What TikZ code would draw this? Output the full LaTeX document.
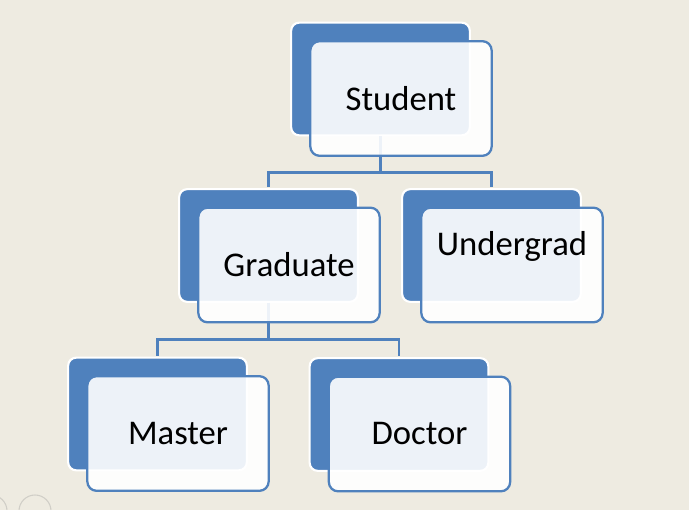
\documentclass[tikz,border=0pt]{standalone}
\usepackage{fontspec}
\setmainfont{Carlito}
\usetikzlibrary{positioning}
\definecolor{bgpaper}{RGB}{238,235,225}
\definecolor{boxblue}{RGB}{79,129,189}
\definecolor{ctrlgray}{RGB}{208,206,199}
\tikzstyle{backbox} = [draw=white, fill=boxblue, line width=1.6pt, rounded corners=6pt, minimum width=134pt, minimum height=84.5pt, inner sep=0pt]
\tikzstyle{frontbox} = [draw=boxblue, fill=white, fill opacity=0.9, text opacity=1, line width=1.7pt, rounded corners=7pt, minimum width=136pt, minimum height=86pt, font=\fontsize{26}{30}\selectfont]
\tikzstyle{link} = [draw=boxblue, line width=2.2pt]
\tikzstyle{ctrl} = [draw=ctrlgray, line width=0.8pt]

\begin{document}
\begin{tikzpicture}[x=0.75pt, y=-0.75pt]
    \clip (0,0) rectangle (689,510);
    \fill[bgpaper] (0,0) rectangle (689,510);
    % back boxes
    \node[backbox] (stuB) at (380.5,79) {};
    \node[backbox] (graB) at (268.5,245.5) {};
    \node[backbox] (ugB) at (491.5,245.5) {};
    \node[backbox] (masB) at (157.5,414) {};
    \node[backbox] (docB) at (399,414.5) {};
    % tree lines
    \coordinate (stuJ) at ([yshift=-27pt]stuB.south);
    \coordinate (graJ) at ([yshift=-27.5pt]graB.south);
    \draw[link] (stuB.south) -- (stuJ);
    \draw[link, shorten <=0.8pt, shorten >=0.8pt] (graB.north) |- (stuJ) -| (ugB.north);
    \draw[link] (graB.south) -- (graJ);
    \draw[link, shorten <=0.8pt, shorten >=0.8pt] (masB.north) |- (graJ) -| (docB.north);
    % front boxes
    \node[frontbox] (stuF) at ([shift={(20.5,19.5)}]stuB) {Student};
    \node[frontbox] (graF) at ([shift={(20.5,19.5)}]graB) {Graduate};
    \node[frontbox, text depth=32pt] (ugF) at ([shift={(20.5,19.5)}]ugB) {Undergrad};
    \node[frontbox] (masF) at ([shift={(20.5,19.5)}]masB) {Master};
    \node[frontbox] (docF) at ([shift={(20.5,19.5)}]docB) {Doctor};
    % slide controls
    \draw[ctrl] (-9,511) circle[radius=12pt];
    \draw[ctrl] (35,511) circle[radius=12pt];
\end{tikzpicture}
\end{document}
